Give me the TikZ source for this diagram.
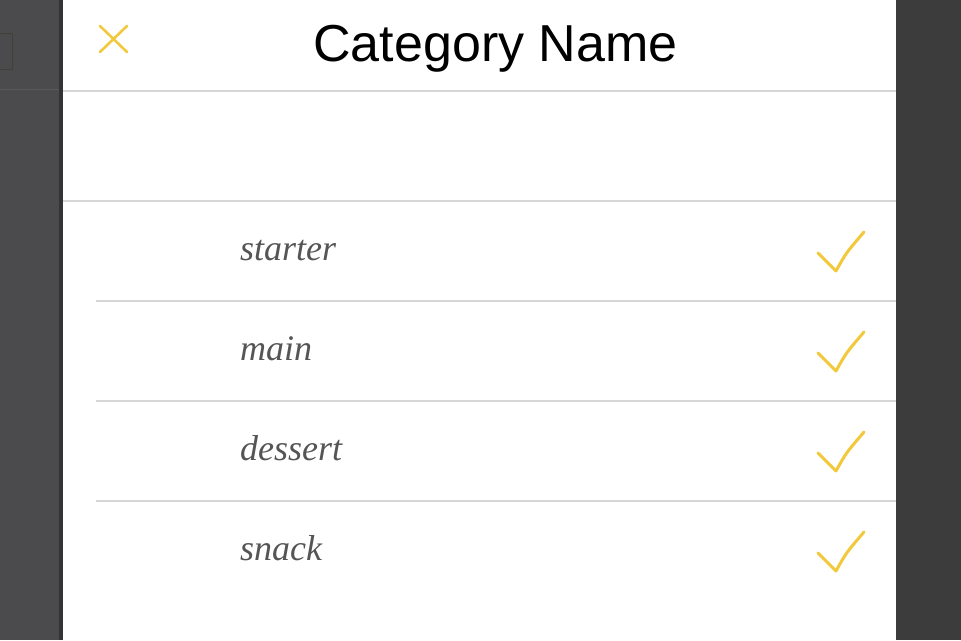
\documentclass[tikz,border=0pt]{standalone}
\usepackage{fontspec}
\setmainfont{Liberation Serif}
\newfontfamily\titlefont{Liberation Sans}
\usetikzlibrary{calc}
\definecolor{panelgold}{HTML}{F2C93C}
\definecolor{rulegray}{HTML}{D6D6D6}
\definecolor{leftshade}{HTML}{4B4B4D}
\definecolor{rightshade}{HTML}{3C3C3C}
\definecolor{itemgray}{HTML}{555555}
\tikzset{
    sepline/.style={draw=rulegray, line width=1.4pt},
    goldstroke/.style={draw=panelgold, line width=3pt, line cap=round, line join=round},
    itemtext/.style={anchor=base west, inner sep=0pt, text=itemgray,
        font=\fontsize{36}{42}\selectfont\itshape},
}

\begin{document}
\begin{tikzpicture}[x=1pt,y=1pt]
    \useasboundingbox (0,0) rectangle (961,640);
    	% background behind the sheet
    	\fill[leftshade] (0,0) rectangle (63,640);
    	\fill[black!80] (59,0) rectangle (63,640);
    	\fill[rightshade] (896,0) rectangle (961,640);
    	\draw[black!85!yellow, line width=1pt] (0,606) -- (12,606) -- (12,570) -- (0,570);
    	\draw[black!65, line width=1pt] (0,550) -- (59,550);
    	\fill[white] (63,0) rectangle (896,640);

    	% header
    	\draw[goldstroke, line width=2.6pt] (100,614) -- (127,588);
    	\draw[goldstroke, line width=2.6pt] (100,588) -- (127,614);
    	\node[anchor=base, inner sep=0pt, font=\titlefont\fontsize{52}{60}\selectfont] (title) at (495.5,578) {Category Name};
    	\draw[sepline] (63,549) -- (896,549);
    	\draw[sepline] (63,439) -- (896,439);

    	% rows
    	\foreach \name/\i in {starter/0, main/1, dessert/2, snack/3} {
    	    \node[itemtext] (item\i) at (240,379-100*\i) {\name};
    	    \draw[goldstroke] (818,387-100*\i) -- (836,369-100*\i)
    	        .. controls (846,387-100*\i) .. (864,408-100*\i);
    	}
    	\foreach \i in {0,1,2}
    	    \draw[sepline] (96,339-100*\i) -- (896,339-100*\i);
    \end{tikzpicture}
\end{document}
